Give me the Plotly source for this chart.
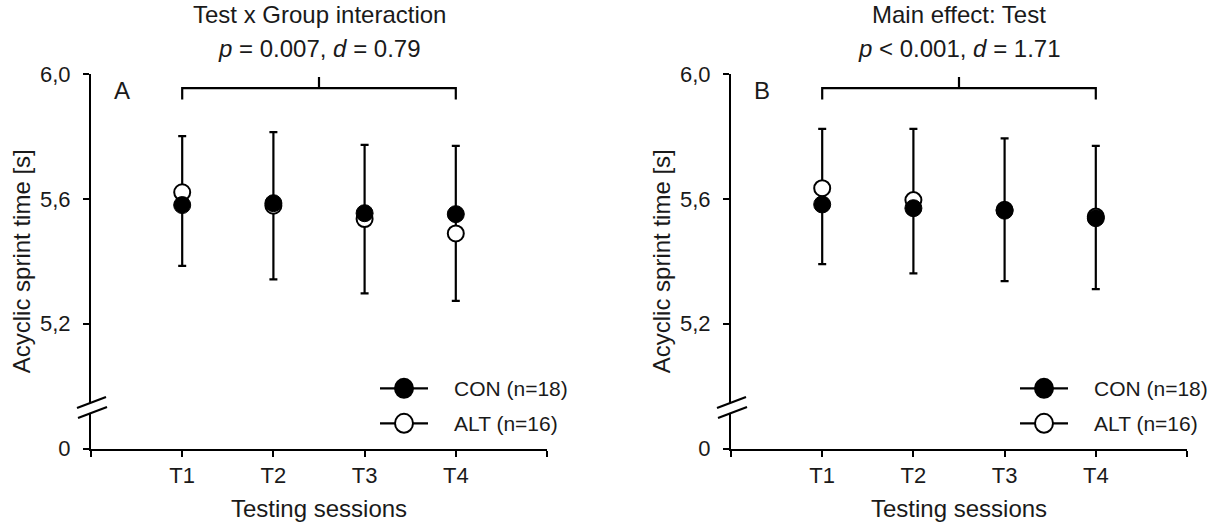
import plotly.graph_objects as go

# ---------------- data ----------------
sessions = ["T1", "T2", "T3", "T4"]

# Panel A (Test x Group interaction)
a_con_mean = [5.580, 5.586, 5.554, 5.551]
a_con_sd = [0.195, 0.227, 0.210, 0.219]
a_alt_mean = [5.621, 5.578, 5.535, 5.489]
a_alt_sd = [0.180, 0.236, 0.238, 0.216]

# Panel B (Main effect: Test)
b_con_mean = [5.582, 5.570, 5.562, 5.538]
b_con_sd = [0.191, 0.209, 0.222, 0.227]
b_alt_mean = [5.634, 5.596, 5.565, 5.543]
b_alt_sd = [0.190, 0.228, 0.229, 0.227]

y_tick_vals = [4.8, 5.2, 5.6, 6.0]      # 4.8 stands for the broken-axis "0"
y_tick_text = ["0", "5,2", "5,6", "6,0"]
x_tick_text = [""] + sessions + [""]

con_label = "CON (n=18)"
alt_label = "ALT (n=16)"
titles_a = ["Test x Group interaction", "<i>p</i> = 0.007, <i>d</i> = 0.79"]
titles_b = ["Main effect: Test", "<i>p</i> &lt; 0.001, <i>d</i> = 1.71"]

# ---------------- layout constants ----------------
W, H = 1207, 526
FONT = "Liberation Sans, Arial, sans-serif"
TXT = "#1a1a1a"
x_pos = list(range(1, len(sessions) + 1))
ydom = [(H - 448.5) / H, (H - 74) / H]
xdoms = [[91 / W, 547 / W], [731 / W, 1187 / W]]

fig = go.Figure()
shapes = []
annotations = []


def panel(idx, con_m, con_s, alt_m, alt_s, letter, titles):
    xa = "x" if idx == 1 else "x2"
    ya = "y" if idx == 1 else "y2"
    xd = xa + " domain"
    yd = ya + " domain"
    # the two groups' SD bars overlap; draw their combined extent once, behind markers
    upper = [max(c + cs, a + as_) - c for c, cs, a, as_ in zip(con_m, con_s, alt_m, alt_s)]
    lower = [c - min(c - cs, a - as_) for c, cs, a, as_ in zip(con_m, con_s, alt_m, alt_s)]
    fig.add_trace(go.Scatter(
        x=x_pos, y=con_m, xaxis=xa, yaxis=ya, mode="markers",
        marker=dict(size=2, color="rgba(0,0,0,0)"),
        error_y=dict(type="data", symmetric=False, array=upper, arrayminus=lower,
                     visible=True, color="black", thickness=2.2, width=4),
        showlegend=False, hoverinfo="skip", cliponaxis=False))
    # ALT markers (open), then CON markers (filled) on top
    fig.add_trace(go.Scatter(
        x=x_pos, y=alt_m, xaxis=xa, yaxis=ya, mode="markers", name=alt_label,
        marker=dict(size=16, color="white", line=dict(color="black", width=2)),
        showlegend=False, cliponaxis=False))
    fig.add_trace(go.Scatter(
        x=x_pos, y=con_m, xaxis=xa, yaxis=ya, mode="markers", name=con_label,
        marker=dict(size=17, color="black", line=dict(color="black", width=1)),
        showlegend=False, cliponaxis=False))

    # bracket
    shapes.append(dict(type="path", xref=xa, yref=ya, layer="above",
                       path="M1,5.918 L1,5.955 L4,5.955 L4,5.918 M2.5,5.955 L2.5,5.99",
                       line=dict(color="black", width=2.2)))
    # axis break
    shapes.append(dict(type="line", xref=xd, yref=yd, layer="above",
                       xsizemode="pixel", ysizemode="pixel", xanchor=0, yanchor=0.111,
                       x0=0, x1=0, y0=-6, y1=4, line=dict(color="white", width=5)))
    for (x0, y0, x1, y1) in ((-14, -1, 15, 10), (-13, -11, 16, 0)):
        shapes.append(dict(type="line", xref=xd, yref=yd, layer="above",
                           xsizemode="pixel", ysizemode="pixel", xanchor=0, yanchor=0.111,
                           x0=x0, x1=x1, y0=y0, y1=y1,
                           line=dict(color="black", width=2.2)))
    # legend (manual)
    for yf, filled, lab in ((0.1607, True, con_label), (0.0673, False, alt_label)):
        shapes.append(dict(type="line", xref=xd, yref=yd, layer="above",
                           xsizemode="pixel", ysizemode="pixel", xanchor=0.6864, yanchor=yf,
                           x0=-24, x1=24, y0=0, y1=0, line=dict(color="black", width=2.2)))
        shapes.append(dict(type="circle", xref=xd, yref=yd, layer="above",
                           xsizemode="pixel", ysizemode="pixel", xanchor=0.6864, yanchor=yf,
                           x0=-9, x1=9, y0=-9.5, y1=9.5,
                           fillcolor="black" if filled else "white",
                           line=dict(color="black", width=2)))
        annotations.append(dict(xref=xd, yref=yd, x=0.7908, y=yf, xanchor="left",
                                yanchor="middle", text=lab, showarrow=False,
                                font=dict(size=21, color=TXT, family=FONT)))
    # panel letter
    annotations.append(dict(xref=xd, yref=yd, x=0.067, y=0.955, text=letter,
                            showarrow=False, xanchor="center", yanchor="middle",
                            font=dict(size=24, color=TXT, family=FONT)))
    # titles
    for ty, t in zip((15, 49), titles):
        annotations.append(dict(xref=xa, yref="paper", x=2.5, y=1 - ty / H, text=t,
                                showarrow=False, xanchor="center", yanchor="middle",
                                font=dict(size=24, color=TXT, family=FONT)))
    # axis titles
    annotations.append(dict(xref=xd, yref="paper", x=0.5, y=1 - 508 / H,
                            text="Testing sessions", showarrow=False,
                            xanchor="center", yanchor="middle",
                            font=dict(size=24, color=TXT, family=FONT)))
    x_axis_px = xdoms[idx - 1][0] * W
    annotations.append(dict(xref="paper", yref=yd, x=(x_axis_px - 70) / W, y=0.5,
                            text="Acyclic sprint time [s]", textangle=-90,
                            showarrow=False, xanchor="center", yanchor="middle",
                            font=dict(size=24, color=TXT, family=FONT)))


panel(1, a_con_mean, a_con_sd, a_alt_mean, a_alt_sd, "A", titles_a)
panel(2, b_con_mean, b_con_sd, b_alt_mean, b_alt_sd, "B", titles_b)

axis_common = dict(showline=True, linecolor="black", linewidth=2.2, ticks="outside",
                   ticklen=6, tickwidth=2.2, tickcolor="black", showgrid=False,
                   zeroline=False, automargin=False,
                   tickfont=dict(size=22, color=TXT, family=FONT))

xaxis_cfg = dict(range=[0, 5], tickmode="array", tickvals=list(range(0, 6)),
                 ticktext=x_tick_text, **axis_common)
yaxis_cfg = dict(range=[4.8, 6.0], domain=ydom, tickmode="array", tickvals=y_tick_vals,
                 ticktext=y_tick_text, ticklabelstandoff=8, **axis_common)

fig.update_layout(
    width=W, height=H,
    margin=dict(l=0, r=0, t=0, b=0),
    paper_bgcolor="white", plot_bgcolor="white",
    showlegend=False,
    xaxis=dict(domain=xdoms[0], anchor="y", **xaxis_cfg),
    yaxis=dict(anchor="x", **yaxis_cfg),
    xaxis2=dict(domain=xdoms[1], anchor="y2", **xaxis_cfg),
    yaxis2=dict(anchor="x2", **yaxis_cfg),
    shapes=shapes,
    annotations=annotations,
    font=dict(family=FONT, color=TXT),
)

fig.write_html("out.html")
